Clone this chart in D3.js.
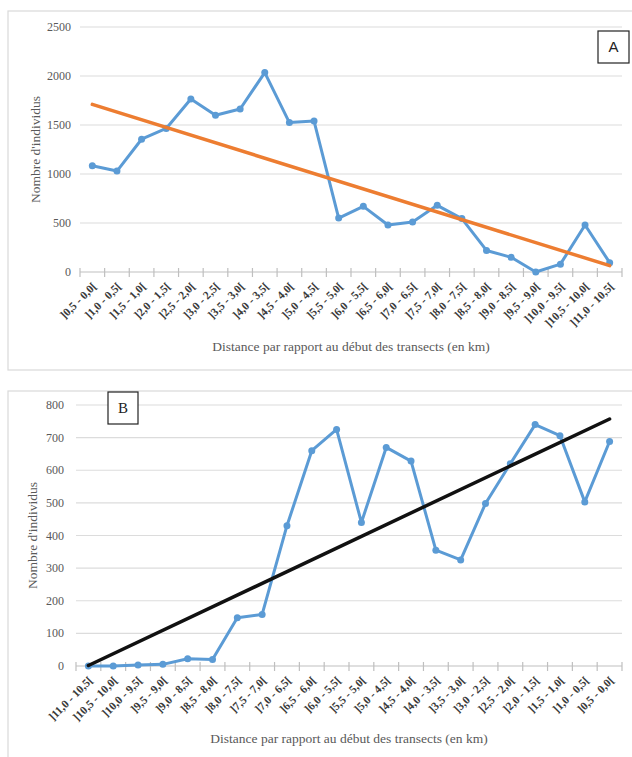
<!DOCTYPE html>
<html>
<head>
<meta charset="utf-8">
<script src="https://d3js.org/d3.v7.min.js"></script>
<style>
  body { margin: 0; background: #fff; }
  svg { display: block; }
</style>
</head>
<body>
<div id="chart"></div>
<script>
// panel A : from the start of the transects
var catsA = ["]0,5 - 0,0[", "]1,0 - 0,5[", "]1,5 - 1,0[", "]2,0 - 1,5[", "]2,5 - 2,0[", "]3,0 - 2,5[",
  "]3,5 - 3,0[", "]4,0 - 3,5[", "]4,5 - 4,0[", "]5,0 - 4,5[", "]5,5 - 5,0[", "]6,0 - 5,5[",
  "]6,5 - 6,0[", "]7,0 - 6,5[", "]7,5 - 7,0[", "]8,0 - 7,5[", "]8,5 - 8,0[", "]9,0 - 8,5[",
  "]9,5 - 9,0[", "]10,0 - 9,5[", "]10,5 - 10,0[", "]11,0 - 10,5["];
var valsA = [1085, 1030, 1355, 1465, 1765, 1600, 1663, 2035, 1525, 1540, 550, 670,
  480, 510, 680, 545, 220, 150, 0, 80, 480, 95];
var yTicksA = [0, 500, 1000, 1500, 2000, 2500];

// panel B : same classes, reversed
var catsB = ["]11,0 - 10,5[", "]10,5 - 10,0[", "]10,0 - 9,5[", "]9,5 - 9,0[", "]9,0 - 8,5[", "]8,5 - 8,0[",
  "]8,0 - 7,5[", "]7,5 - 7,0[", "]7,0 - 6,5[", "]6,5 - 6,0[", "]6,0 - 5,5[", "]5,5 - 5,0[",
  "]5,0 - 4,5[", "]4,5 - 4,0[", "]4,0 - 3,5[", "]3,5 - 3,0[", "]3,0 - 2,5[", "]2,5 - 2,0[",
  "]2,0 - 1,5[", "]1,5 - 1,0[", "]1,0 - 0,5[", "]0,5 - 0,0["];
var valsB = [0, 0, 3, 5, 22, 20, 148, 158, 430, 660, 725, 440,
  670, 628, 355, 325, 498, 620, 740, 706, 503, 688];
var yTicksB = [0, 100, 200, 300, 400, 500, 600, 700, 800];

var xTitle = "Distance par rapport au début des transects (en km)";
var yTitle = "Nombre d'individus";

var svg = d3.select("#chart").append("svg")
  .attr("width", 632)
  .attr("height", 757);

var serif = "'Liberation Serif', 'Times New Roman', 'DejaVu Serif', serif";

var drawPanel = function(o, cats, vals, yTicks) {
  var g = svg.append("g");

  //frame
  g.append("rect")
    .attr("x", o.boxX).attr("y", o.boxY)
    .attr("width", o.boxW).attr("height", o.boxH)
    .style("fill", "#fff")
    .style("stroke", "#d9d9d9")
    .style("stroke-width", 1.2);

  var x = d3.scaleBand().domain(cats).range([o.left, o.right]);
  var y = d3.scaleLinear().domain([0, yTicks[yTicks.length - 1]]).range([o.bottom, o.top]);
  var cx = function(c) { return x(c) + x.bandwidth() / 2; };

  //grid
  g.selectAll(".grid").data(yTicks.slice(1)).enter().append("line")
    .attr("x1", o.left).attr("x2", o.right)
    .attr("y1", function(d) { return y(d); })
    .attr("y2", function(d) { return y(d); })
    .style("stroke", "#dcdcdc")
    .style("stroke-width", 1.2);

  //y labels
  g.selectAll(".ylab").data(yTicks).enter().append("text")
    .text(function(d) { return d; })
    .attr("x", o.yLabelX)
    .attr("y", function(d) { return y(d) + 4; })
    .attr("text-anchor", "end")
    .style("font-family", serif)
    .style("font-size", "12px")
    .style("fill", "#595959");

  //x axis
  g.append("line")
    .attr("x1", o.left).attr("x2", o.right)
    .attr("y1", o.bottom).attr("y2", o.bottom)
    .style("stroke", "#bfbfbf")
    .style("stroke-width", 1.2);
  var bounds = cats.map(function(c) { return x(c); }).concat([o.right]);
  g.selectAll(".tick").data(bounds).enter().append("line")
    .attr("x1", function(d) { return d; })
    .attr("x2", function(d) { return d; })
    .attr("y1", o.bottom - 4).attr("y2", o.bottom + 5)
    .style("stroke", "#bfbfbf")
    .style("stroke-width", 1.2);

  g.selectAll(".xlab").data(cats).enter().append("text")
    .text(function(d) { return d; })
    .attr("transform", function(d) { return "translate(" + (cx(d) + 5) + "," + (o.bottom + 15) + ") rotate(-45)"; })
    .attr("text-anchor", "end")
    .style("font-family", serif)
    .style("font-weight", "bold")
    .style("font-size", "11.5px")
    .style("fill", "#3a3a3a");

  //titles
  g.append("text").text(xTitle)
    .attr("x", (o.left + o.right) / 2)
    .attr("y", o.xTitleY)
    .attr("text-anchor", "middle")
    .style("font-family", serif)
    .style("font-size", "13.5px")
    .style("fill", "#595959");

  g.append("text").text(yTitle)
    .attr("transform", "translate(" + o.yTitleX + "," + ((o.top + o.bottom) / 2) + ") rotate(-90)")
    .attr("text-anchor", "middle")
    .style("font-family", serif)
    .style("font-size", "13.5px")
    .style("fill", "#595959");

  //data line
  var pts = cats.map(function(c, i) { return [cx(c), y(vals[i])]; });
  g.append("path")
    .attr("d", d3.line()(pts))
    .style("fill", "none")
    .style("stroke", "#5b9bd5")
    .style("stroke-width", 3)
    .style("stroke-linejoin", "round");
  g.selectAll(".dot").data(pts).enter().append("circle")
    .attr("cx", function(d) { return d[0]; })
    .attr("cy", function(d) { return d[1]; })
    .attr("r", 3.5)
    .style("fill", "#5b9bd5");

  //linear trend (least squares, as the spreadsheet does)
  var n = vals.length;
  var mx = (n + 1) / 2, my = d3.mean(vals);
  var sxy = 0, sxx = 0;
  vals.forEach(function(v, i) {
    sxy += (i + 1 - mx) * (v - my);
    sxx += (i + 1 - mx) * (i + 1 - mx);
  });
  var slope = sxy / sxx;
  var t0 = my + (1 - mx) * slope, t1 = my + (n - mx) * slope;
  g.append("line")
    .attr("x1", cx(cats[0])).attr("y1", y(t0))
    .attr("x2", cx(cats[n - 1])).attr("y2", y(t1))
    .style("stroke", o.trendColor)
    .style("stroke-width", 3.5)
    .style("stroke-linecap", "round");

  //panel letter
  g.append("rect")
    .attr("x", o.tagX).attr("y", o.tagY)
    .attr("width", o.tagW).attr("height", o.tagH)
    .style("fill", "#fff")
    .style("stroke", "#222")
    .style("stroke-width", 1.2);
  g.append("text").text(o.tag)
    .attr("x", o.tagX + o.tagW / 2)
    .attr("y", o.tagY + o.tagH / 2 + 5)
    .attr("text-anchor", "middle")
    .style("font-family", o.tagFont)
    .style("font-size", "15px")
    .style("fill", "#222");
};

drawPanel({
  boxX: 8, boxY: 11, boxW: 630, boxH: 359,
  left: 80, right: 622, top: 27, bottom: 272,
  yLabelX: 71, yTitleX: 40, xTitleY: 351,
  trendColor: "#ed7d31",
  tag: "A", tagX: 598, tagY: 31, tagW: 31, tagH: 32, tagFont: "'Liberation Sans', Arial, sans-serif"
}, catsA, valsA, yTicksA);

drawPanel({
  boxX: 8, boxY: 391, boxW: 630, boxH: 372,
  left: 76, right: 622, top: 405, bottom: 666,
  yLabelX: 64, yTitleX: 37, xTitleY: 743,
  trendColor: "#111",
  tag: "B", tagX: 108, tagY: 392, tagW: 30, tagH: 32, tagFont: serif
}, catsB, valsB, yTicksB);
</script>
</body>
</html>
